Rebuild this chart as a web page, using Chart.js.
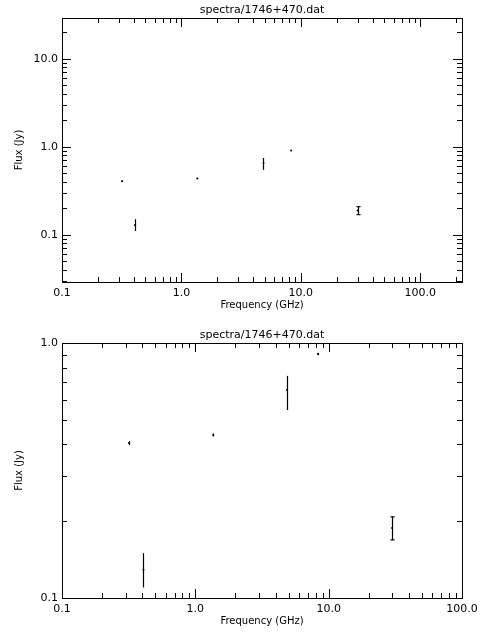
<!DOCTYPE html><html><head><script src="https://cdn.jsdelivr.net/npm/chart.js@4"></script>
<style>body{margin:0;background:#fff}canvas{display:block}</style></head><body>
<div style="width:480px;height:320px"><canvas id="c1"></canvas></div>
<div style="width:480px;height:320px"><canvas id="c2"></canvas></div>
<script>
const title="spectra/1746+470.dat";
const freq=[0.318,0.408,1.36,4.87,8.3,29.9];
const flux=[0.405,0.129,0.436,0.654,0.905,0.188];
const fluxLo=[0.398,0.110,0.430,0.546,0.895,0.169];
const fluxHi=[0.412,0.150,0.442,0.743,0.915,0.208];
const xTicks=[0.1,1,10,100];
const xTickLabels=["0.1","1.0","10.0","100.0"];
const yTicks=[0.1,1,10];
const yTickLabels=["0.1","1.0","10.0"];
const F='11px "DejaVu Sans"';
function mk(id,xmin,xmax,ymin,ymax,pad){
 const pts=freq.map((f,i)=>({x:f,y:flux[i]}));
 const plug={id:'idl',afterDraw(ch){
  const c=ch.ctx,a=ch.chartArea,xs=ch.scales.x,ys=ch.scales.y;
  c.save();c.strokeStyle='#000';c.fillStyle='#000';c.lineWidth=1;
  c.strokeRect(a.left+.5,a.top+.5,a.right-a.left,a.bottom-a.top);
  for(let d=-2;d<4;d++)for(let m=1;m<10;m++){const v=m*Math.pow(10,d);const L=m==1?9:5;
   if(v>=xmin&&v<=xmax){const p=Math.round(xs.getPixelForValue(v))+.5;c.beginPath();c.moveTo(p,a.bottom);c.lineTo(p,a.bottom-L);c.moveTo(p,a.top);c.lineTo(p,a.top+L);c.stroke();}
   if(v>=ymin&&v<=ymax){const p=Math.round(ys.getPixelForValue(v))+.5;c.beginPath();c.moveTo(a.left,p);c.lineTo(a.left+L,p);c.moveTo(a.right,p);c.lineTo(a.right-L,p);c.stroke();}}
  c.font=F;c.textAlign='center';c.textBaseline='top';
  xTicks.forEach((v,i)=>{if(v>=xmin&&v<=xmax*1.001)c.fillText(xTickLabels[i],xs.getPixelForValue(v),a.bottom+6);});
  c.textAlign='right';c.textBaseline='middle';
  yTicks.forEach((v,i)=>{if(v>=ymin*0.999&&v<=ymax)c.fillText(yTickLabels[i],a.left-4,ys.getPixelForValue(v));});
  c.textAlign='center';c.textBaseline='bottom';c.fillText(title,(a.left+a.right)/2,a.top-2);
  c.textBaseline='top';c.font='10px "DejaVu Sans"';c.fillText("Frequency (GHz)",(a.left+a.right)/2,a.bottom+18);
  c.translate(a.left-38,(a.top+a.bottom)/2);c.rotate(-Math.PI/2);c.textBaseline='bottom';c.fillText("Flux (Jy)",0,0);c.setTransform(1,0,0,1,0,0);
  c.scale(ch.currentDevicePixelRatio,ch.currentDevicePixelRatio);
  freq.forEach((f,i)=>{const x=Math.round(xs.getPixelForValue(f))+.5,y1=ys.getPixelForValue(fluxLo[i]),y2=ys.getPixelForValue(fluxHi[i]);
   c.lineWidth=1.2;c.beginPath();c.moveTo(x,y1);c.lineTo(x,y2);
   if(i==5){c.moveTo(x-2,y1);c.lineTo(x+2,y1);c.moveTo(x-2,y2);c.lineTo(x+2,y2);}c.stroke();});
  c.restore();}};
 new Chart(document.getElementById(id),{type:'scatter',data:{datasets:[{data:pts,backgroundColor:'#000',borderColor:'#000',pointRadius:1,borderWidth:0}]},
  options:{responsive:true,maintainAspectRatio:false,animation:false,layout:{padding:pad},
   plugins:{legend:{display:false},tooltip:{enabled:false}},
   scales:{x:{type:'logarithmic',min:xmin,max:xmax,display:false},y:{type:'logarithmic',min:ymin,max:ymax,display:false}}},plugins:[plug]});
}
mk('c1',0.1,224,0.029,29,{left:62,right:18,top:18,bottom:38});
mk('c2',0.1,100,0.1,1.0,{left:62,right:18,top:23,bottom:42});
</script></body></html>
